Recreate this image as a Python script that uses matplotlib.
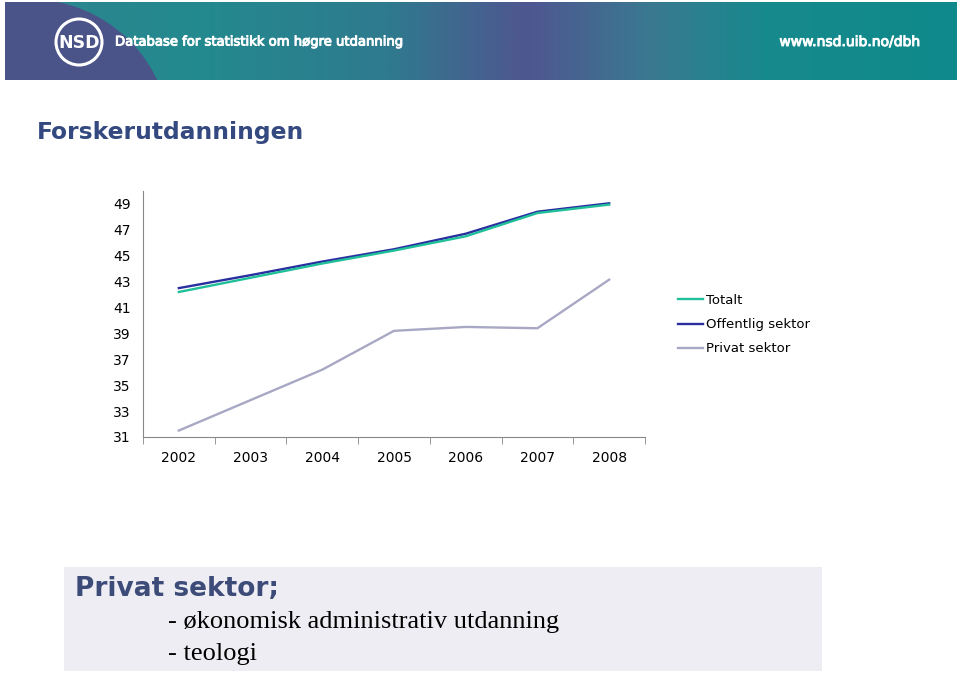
import numpy as np
import matplotlib.pyplot as plt
import matplotlib.patheffects as pe
from matplotlib.colors import LinearSegmentedColormap
from matplotlib.patches import Circle, Rectangle

years = ['2002', '2003', '2004', '2005', '2006', '2007', '2008']
totalt = [42.2, 43.3, 44.4, 45.4, 46.5, 48.3, 48.95]
offentlig = [42.5, 43.5, 44.55, 45.5, 46.7, 48.4, 49.05]
privat = [31.5, 33.85, 36.2, 39.2, 39.5, 39.4, 43.15]
y_ticks = [31, 33, 35, 37, 39, 41, 43, 45, 47, 49]

W, H = 960, 673
fig = plt.figure(figsize=(W / 100, H / 100), dpi=100)
fig.patch.set_facecolor('white')


def px_axes(x0, y0, x1, y1):
    # pixel box (top-left origin) -> figure fraction
    return [x0 / W, 1 - y1 / H, (x1 - x0) / W, (y1 - y0) / H]


# banner
ban = fig.add_axes(px_axes(5, 2, 957, 80))
ban.set_xlim(5, 957)
ban.set_ylim(80, 2)
ban.axis('off')
cmap = LinearSegmentedColormap.from_list('ban', [
    (0.0, '#2f8490'), (0.2, '#238a8e'), (0.4, '#2f7a8e'),
    (0.55, '#4f5690'), (0.68, '#3a7990'), (0.8, '#17898d'), (1.0, '#0f8a8b')])
grad = np.linspace(0, 1, 400).reshape(1, -1)
ban.imshow(grad, cmap=cmap, extent=[5, 957, 80, 2], aspect='auto', zorder=0)
disc = Circle((30, 140), 140, color='#4a5488', zorder=1)
ban.add_patch(disc)
disc.set_clip_path(ban.patch)
ban.add_patch(Circle((79, 42), 23, fill=False, ec='white', lw=2.2, zorder=3))
ban.text(79, 43, 'NSD', color='white', fontsize=12.5, fontweight='bold',
         ha='center', va='center', zorder=4)
thick = [pe.withStroke(linewidth=0.7, foreground='white')]
ban.text(115, 42, 'Database for statistikk om høgre utdanning', color='white',
         fontsize=9.5, ha='left', va='center', zorder=4, path_effects=thick)
ban.text(920, 42, 'www.nsd.uib.no/dbh', color='white', fontsize=10,
         ha='right', va='center', zorder=4, path_effects=thick)

# title
fig.text(37 / W, 1 - 133 / H, 'Forskerutdanningen', color='#34497f',
         fontsize=16.8, fontweight='bold', ha='left', va='center')

# chart
ax = fig.add_axes(px_axes(143, 191, 645, 437))
x = np.arange(len(years))
ax.plot(x, totalt, color='#1fbf9a', lw=1.7, label='Totalt', zorder=3)
ax.plot(x, offentlig, color='#2a2fa0', lw=1.7, label='Offentlig sektor', zorder=2)
ax.plot(x, privat, color='#a8a8c4', lw=1.7, label='Privat sektor', zorder=3)
ax.set_xlim(-0.5, len(years) - 0.5)
ax.set_ylim(31, 50)
ax.set_yticks(y_ticks)
ax.set_yticklabels([str(v) for v in y_ticks])
ax.set_xticks(x)
ax.set_xticklabels(years)
ax.set_xticks(np.arange(-0.5, len(years)), minor=True)
ax.tick_params(axis='x', which='major', length=0, pad=10, labelsize=10)
ax.tick_params(axis='x', which='minor', length=5, color='#888888', direction='out')
ax.tick_params(axis='y', length=0, pad=9, labelsize=10)
for s in ['top', 'right']:
    ax.spines[s].set_visible(False)
ax.spines['left'].set_color('#888888')
ax.spines['bottom'].set_color('#888888')
ax.patch.set_alpha(0)

leg = fig.legend(loc='upper left', bbox_to_anchor=(678 / W, 1 - 294 / H),
                 frameon=False, fontsize=9.5, handlelength=1.9, handletextpad=0.25,
                 labelspacing=0.85, borderaxespad=0, borderpad=0)

# bottom note box
box = fig.add_axes(px_axes(64, 567, 822, 671))
box.set_xlim(0, 758)
box.set_ylim(104, 0)
box.axis('off')
box.add_patch(Rectangle((0, 0), 758, 104, color='#ededf3', zorder=0))
box.text(11, 22, 'Privat sektor;', color='#3d4b78', fontsize=19,
         fontweight='bold', ha='left', va='center')
box.text(104, 55, '- økonomisk administrativ utdanning', color='black',
         fontsize=19, family='Liberation Serif', ha='left', va='center')
box.text(104, 87, '- teologi', color='black',
         fontsize=19, family='Liberation Serif', ha='left', va='center')

fig.savefig('out.png', dpi=100)
